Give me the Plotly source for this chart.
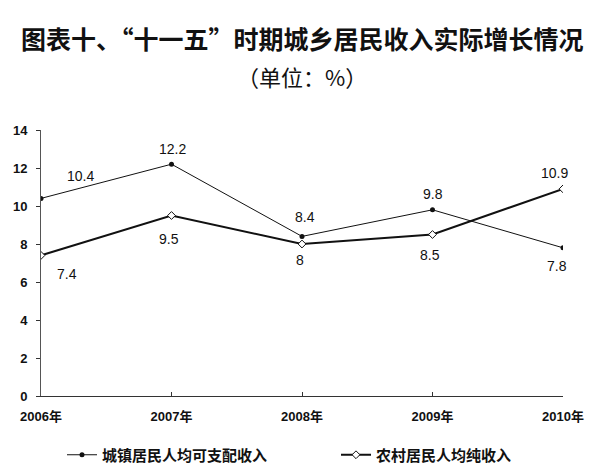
import plotly.graph_objects as go

years = ["2006年", "2007年", "2008年", "2009年", "2010年"]
urban_name = "城镇居民人均可支配收入"
rural_name = "农村居民人均纯收入"
urban = [10.4, 12.2, 8.4, 9.8, 7.8]
rural = [7.4, 9.5, 8.0, 8.5, 10.9]
y_ticks = [0, 2, 4, 6, 8, 10, 12, 14]

title_text = "图表十、“十一五”时期城乡居民收入实际增长情况"
subtitle_text = "（单位：%）"

# label offsets in pixels (style, not data)
urban_off = [(39, -22), (1, -15), (3, -19), (0, -16), (-6, 18)]
rural_off = [(26, 19), (-3, 23), (-2, 16), (-3, 20), (-9, -16)]

W, H = 600, 474
ML, MR, MT, MB = 41, 37, 130, 78

fig = go.Figure()
fig.add_trace(go.Scatter(
    x=years, y=urban, name=urban_name, mode="lines+markers", legend="legend",
    line=dict(color="#111", width=1),
    marker=dict(symbol="circle", size=5, color="#111"),
))
fig.add_trace(go.Scatter(
    x=years, y=rural, name=rural_name, mode="lines+markers", legend="legend2",
    line=dict(color="#111", width=2),
    marker=dict(symbol="diamond", size=6, color="white", line=dict(color="#111", width=1)),
))

def fmt(v):
    return "%g" % v

num_font = dict(family="Liberation Sans, Noto Sans CJK SC", size=14, color="#111")
for vals, offs in ((urban, urban_off), (rural, rural_off)):
    for i, v in enumerate(vals):
        fig.add_annotation(x=years[i], y=v, text=fmt(v), showarrow=False,
                           xshift=offs[i][0], yshift=-offs[i][1], font=num_font)

ph = H - MT - MB
fig.add_annotation(x=0.5, xref="paper", y=(H - 38 - MB) / ph, yref="paper",
                   yanchor="middle", text=title_text, showarrow=False,
                   font=dict(family="Noto Sans CJK SC", size=25, color="#111", weight="bold"))
fig.add_annotation(x=0.5, xref="paper", y=(H - 76 - MB) / ph, yref="paper",
                   yanchor="middle", text=subtitle_text, showarrow=False,
                   font=dict(family="Noto Sans CJK SC", size=22, color="#111"))

leg_font = dict(family="Noto Sans CJK SC", size=15, color="#111", weight="bold")
leg_common = dict(orientation="h", xanchor="left", xref="container",
                  y=(H - 455) / H, yref="container", yanchor="middle",
                  font=leg_font, itemwidth=30, bgcolor="rgba(0,0,0,0)")

fig.update_layout(
    width=W, height=H,
    margin=dict(l=ML, r=MR, t=MT, b=MB, autoexpand=False),
    paper_bgcolor="white", plot_bgcolor="white",
    showlegend=True,
    legend=dict(x=62 / W, **leg_common),
    legend2=dict(x=336 / W, **leg_common),
    xaxis=dict(type="category", range=[0, 4], showline=True, linecolor="#333", linewidth=1,
               ticks="inside", ticklen=4, tickcolor="#333", showgrid=False, automargin=False,
               ticklabelstandoff=8,
               tickfont=dict(family="Liberation Sans, Noto Sans CJK SC", size=13, color="#111", weight="bold")),
    yaxis=dict(range=[0, 14], tickvals=y_ticks, showline=True, linecolor="#555", linewidth=1,
               ticks="outside", ticklen=4, tickcolor="#333", showgrid=False, zeroline=False,
               automargin=False, ticklabelstandoff=6,
               tickfont=dict(family="Liberation Sans", size=13, color="#111", weight="bold")),
)

fig.write_html("out.html", config={"displayModeBar": False},
               post_script="document.body.style.margin='0';")
